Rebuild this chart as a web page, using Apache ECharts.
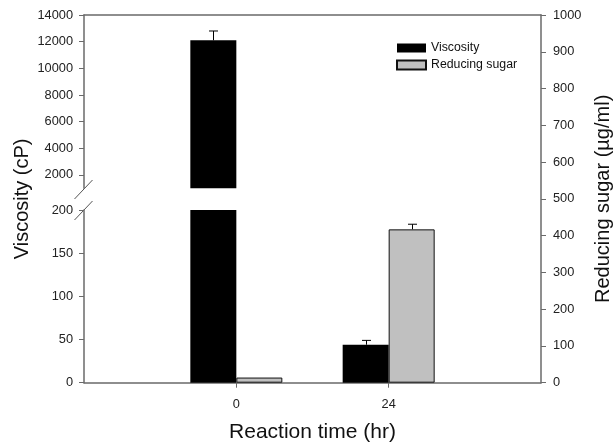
<!DOCTYPE html>
<html>
<head>
<meta charset="utf-8">
<script src="https://cdn.jsdelivr.net/npm/echarts@6/dist/echarts.min.js"></script>
<style>
html,body{margin:0;padding:0;background:#fff;}
#chart{width:614px;height:444px;}
</style>
</head>
<body>
<div id="chart"></div>
<script>
// ---- data ----
var categories = ['0', '24'];
var viscosity = [12100, 44];
var viscosityErr = [700, 5];
var sugar = [14, 417];
var sugarErr = [0, 14];
var topTicks = [2000, 4000, 6000, 8000, 10000, 12000, 14000];

// ---- layout constants ----
var FONT = "'Liberation Sans', Arial, sans-serif";
var AX = '#6a6a6a';
var BW = 46;
var L = 84, R = 614 - 541;
var TOP0 = 15, BOT0 = 188.3, TOP1 = 210, BOT1 = 382.7;

var padded = ['pad0'].concat(categories).concat(['pad1']);
function padVals(a) { return ['-'].concat(a).concat(['-']); }
function isReal(idx) { return idx >= 1 && idx <= categories.length; }
function errData(v, e) { return categories.map(function (c, i) { return [i + 1, v[i], e[i]]; }); }
function plain(v) { return String(v); }

function errRender(offset) {
  return function (params, api) {
    var x = api.value(0), v = api.value(1), e = api.value(2);
    if (!e) return null;
    var p0 = api.coord([x, v]);
    var p1 = api.coord([x, v + e]);
    var cx = Math.round(p0[0] + offset) + 0.5;
    return {
      type: 'group',
      children: [
        { type: 'line', shape: { x1: cx, y1: p0[1], x2: cx, y2: p1[1] }, style: { stroke: '#000', lineWidth: 1 } },
        { type: 'line', shape: { x1: cx - 4.5, y1: p1[1], x2: cx + 4.5, y2: p1[1] }, style: { stroke: '#000', lineWidth: 1 } }
      ]
    };
  };
}

var labelStyle = { color: '#222', fontSize: 12.8, fontFamily: FONT };
var chart = echarts.init(document.getElementById('chart'));
var empty = categories.map(function () { return '-'; });
function gridBox(top, bottom) {
  return { left: L, right: R, top: top, height: bottom - top, containLabel: false, outerBoundsMode: 'none' };
}
var option = {
  animation: false,
  backgroundColor: '#fff',
  textStyle: { fontFamily: FONT },
  grid: [gridBox(TOP0, BOT0), gridBox(TOP1, BOT1), gridBox(TOP0, BOT1)],
  legend: {
    orient: 'vertical', left: 391, top: 37, itemWidth: 29, itemHeight: 9, itemGap: 5, icon: 'rect',
    data: ['Viscosity', 'Reducing sugar'],
    textStyle: { color: '#111', fontSize: 12.3, fontFamily: FONT }
  },
  xAxis: [
    { gridIndex: 0, type: 'category', data: padded, boundaryGap: false, position: 'top',
      axisLine: { show: true, onZero: false, lineStyle: { color: AX, width: 1.5 } },
      axisTick: { show: false }, axisLabel: { show: false }, splitLine: { show: false } },
    { gridIndex: 1, type: 'category', data: padded, boundaryGap: false, show: false },
    { gridIndex: 2, type: 'category', data: padded, boundaryGap: false, position: 'bottom',
      axisLine: { show: true, onZero: false, lineStyle: { color: AX, width: 1.5 } },
      axisTick: { show: true, inside: false, length: 5, interval: function (i) { return isReal(i); }, lineStyle: { color: AX } },
      axisLabel: Object.assign({ interval: function (i) { return isReal(i); }, margin: 15 }, labelStyle),
      name: 'Reaction time (hr)', nameLocation: 'middle', nameGap: 39,
      nameTextStyle: { fontSize: 21, color: '#111', fontFamily: FONT } }
  ],
  yAxis: [
    { gridIndex: 0, type: 'value', min: 1000, max: 14000, position: 'left',
      axisLine: { show: true, lineStyle: { color: AX, width: 1.5 } },
      axisTick: { show: true, length: 5, customValues: topTicks, lineStyle: { color: AX } },
      axisLabel: Object.assign({ customValues: topTicks, margin: 11, formatter: plain }, labelStyle),
      splitLine: { show: false } },
    { gridIndex: 1, type: 'value', min: 0, max: 200, interval: 50, position: 'left',
      axisLine: { show: true, lineStyle: { color: AX, width: 1.5 } },
      axisTick: { show: true, length: 5, lineStyle: { color: AX } },
      axisLabel: Object.assign({ margin: 11, formatter: plain }, labelStyle),
      splitLine: { show: false } },
    { gridIndex: 2, type: 'value', min: 0, max: 1000, interval: 100, position: 'right',
      axisLine: { show: true, lineStyle: { color: AX, width: 1.5 } },
      axisTick: { show: true, length: 5, lineStyle: { color: AX } },
      axisLabel: Object.assign({ margin: 12, formatter: plain }, labelStyle),
      splitLine: { show: false },
      name: 'Reducing sugar (\u00b5g/ml)', nameLocation: 'middle', nameGap: 52, nameRotate: 90,
      nameTextStyle: { fontSize: 20, color: '#111', fontFamily: FONT } },
    { gridIndex: 2, type: 'value', min: 0, max: 1000, position: 'left',
      axisLine: { show: false }, axisTick: { show: false }, axisLabel: { show: false }, splitLine: { show: false },
      name: 'Viscosity (cP)', nameLocation: 'middle', nameGap: 52, nameRotate: 90,
      nameTextStyle: { fontSize: 20, color: '#111', fontFamily: FONT } }
  ],
  series: [
    // top segment
    { name: 'Viscosity', type: 'bar', xAxisIndex: 0, yAxisIndex: 0, data: padVals(viscosity), barWidth: BW, barGap: '0%',
      itemStyle: { color: '#000' }, clip: true },
    { name: '_p0', type: 'bar', xAxisIndex: 0, yAxisIndex: 0, data: padVals(empty), barWidth: BW, barGap: '0%' },
    { type: 'custom', xAxisIndex: 0, yAxisIndex: 0, data: errData(viscosity, viscosityErr), renderItem: errRender(-BW / 2), clip: true, encode: { x: 0, y: 1 } },
    // bottom segment
    { name: 'Viscosity', type: 'bar', xAxisIndex: 1, yAxisIndex: 1, data: padVals(viscosity), barWidth: BW, barGap: '0%',
      itemStyle: { color: '#000' }, clip: true },
    { name: '_p1', type: 'bar', xAxisIndex: 1, yAxisIndex: 1, data: padVals(empty), barWidth: BW, barGap: '0%' },
    { type: 'custom', xAxisIndex: 1, yAxisIndex: 1, data: errData(viscosity, viscosityErr), renderItem: errRender(-BW / 2), clip: true, encode: { x: 0, y: 1 } },
    // reducing sugar (right axis)
    { name: '_p2', type: 'bar', xAxisIndex: 2, yAxisIndex: 2, data: padVals(empty), barWidth: BW, barGap: '0%' },
    { name: 'Reducing sugar', type: 'bar', xAxisIndex: 2, yAxisIndex: 2, data: padVals(sugar), barWidth: BW, barGap: '0%',
      itemStyle: { color: '#c0c0c0', borderColor: '#111', borderWidth: 1 } },
    { type: 'custom', xAxisIndex: 2, yAxisIndex: 2, data: errData(sugar, sugarErr), renderItem: errRender(BW / 2), clip: true, encode: { x: 0, y: 1 } }
  ],
  graphic: [
    { type: 'line', shape: { x1: 74.5, y1: 199, x2: 92.5, y2: 180 }, style: { stroke: '#555', lineWidth: 1 } },
    { type: 'line', shape: { x1: 74.5, y1: 220, x2: 92.5, y2: 201 }, style: { stroke: '#555', lineWidth: 1 } }
  ]
};
chart.setOption(option);
</script>
</body>
</html>
